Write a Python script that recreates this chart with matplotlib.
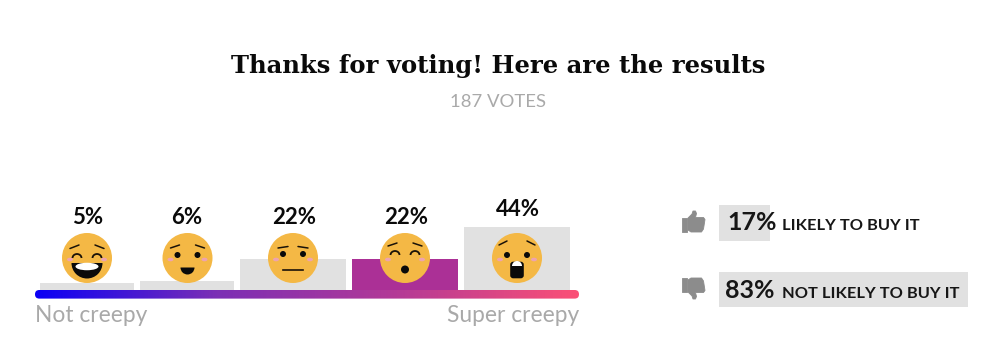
import numpy as np
import matplotlib
matplotlib.use('Agg')
import matplotlib.pyplot as plt
from matplotlib.patches import Circle, Ellipse, Arc, Wedge, FancyBboxPatch, Polygon
from matplotlib.colors import LinearSegmentedColormap

# data
title = 'Thanks for voting! Here are the results'
votes_label = '187 VOTES'
creepy_pct = [5, 6, 22, 22, 44]
creepy_labels = ['5%', '6%', '22%', '22%', '44%']
axis_left = 'Not creepy'
axis_right = 'Super creepy'
buy_pct = [17, 83]
buy_labels = ['LIKELY TO BUY IT', 'NOT LIKELY TO BUY IT']

# layout, in pixels of the 1000x352 figure
W, H = 1000, 352
bar_x = [87, 187, 293, 405, 517]
bar_w = [94, 94, 106, 106, 106]
bar_cols = ['#e1e1e1', '#e1e1e1', '#e1e1e1', '#ab3096', '#e1e1e1']
base_y = 290
px_per_pct = 1.43
label_y = [218, 218, 218, 218, 209]
label_x = [88, 187, 294, 406, 518]
face_x = [87, 187.5, 293, 405, 517]
face_y = 258
GOLD = '#f4b845'
CHEEK = '#eda4b0'
GREY = '#a9a9a9'
ICON = '#8c8c8c'
SANS = ['Lato', 'DejaVu Sans']

fig = plt.figure(figsize=(W / 100, H / 100), dpi=100, facecolor='white')

# creepiness bars
ax_bar = fig.add_axes([0, (H - base_y) / H, 1, 100 * px_per_pct / H], zorder=1)
ax_bar.bar(bar_x, creepy_pct, width=bar_w, color=bar_cols, edgecolor='none')
ax_bar.set_xlim(0, W)
ax_bar.set_ylim(0, 100)
ax_bar.axis('off')

# likely to buy bars, 3px for each percent
ax_buy = fig.add_axes([719 / W, 0, 300 / W, 1], zorder=1)
ax_buy.barh([223, 289.5], buy_pct, height=[36, 35], color='#e1e1e1')
ax_buy.set_xlim(0, 100)
ax_buy.set_ylim(H, 0)
ax_buy.axis('off')

# everything else drawn on top in pixel coordinates
ax = fig.add_axes([0, 0, 1, 1], zorder=2)
ax.patch.set_alpha(0)
ax.axis('off')

ax.text(498, 66.5, title, ha='center', va='center', family='DejaVu Serif',
        weight='bold', fontsize=17.5, color='#0a0a0a')
ax.text(498, 102, votes_label, ha='center', va='center', family=SANS,
        fontsize=13.3, color=GREY)

# gradient scale
cmap = LinearSegmentedColormap.from_list('creep', ['#0a00f5', '#7b2fb5', '#b43a96', '#fb5076'])
grad = np.linspace(0, 1, 256).reshape(1, -1)
im = ax.imshow(grad, cmap=cmap, extent=(35, 579, 298.6, 290), aspect='auto', zorder=3)
clip = FancyBboxPatch((39.3, 294.3), 535.4, 0, boxstyle='round,pad=4.3,rounding_size=4.3',
                      transform=ax.transData, fc='none', ec='none')
ax.add_patch(clip)
im.set_clip_path(clip)
ax.set_xlim(0, W)
ax.set_ylim(H, 0)

ax.text(35, 316, axis_left, ha='left', va='center', family=SANS, fontsize=16.4, color=GREY)
ax.text(579, 316, axis_right, ha='right', va='center', family=SANS, fontsize=16.4, color=GREY)

for x, y, s in zip(label_x, label_y, creepy_labels):
    ax.text(x, y, s, ha='center', va='center', family=SANS, weight='bold', fontsize=16, color='#0a0a0a')


def brows(cx, cy, dx0, dy0, dx1, dy1):
    for sign in (-1, 1):
        ax.plot([cx + sign * dx0, cx + sign * dx1], [cy + dy0, cy + dy1], color='#1a1208',
                lw=1.1, solid_capstyle='round', zorder=6)


def arc_eyes(cx, cy, dy):
    for sign in (-1, 1):
        ax.add_patch(Arc((cx + sign * 10, cy + dy), 9, 8, theta1=180, theta2=360,
                         color='#1a1208', lw=1.3, zorder=6))


def dot_eyes(cx, cy, dy):
    for sign in (-1, 1):
        ax.add_patch(Circle((cx + sign * 10, cy + dy), 3, fc='#0a0a0a', ec='none', zorder=6))


def face(cx, cy, kind):
    ax.add_patch(Circle((cx, cy), 25, fc=GOLD, ec='none', zorder=5))
    for sign in (-1, 1):
        ax.add_patch(Ellipse((cx + sign * 17, cy + 1.5), 6, 3.6, fc=CHEEK, ec='none', zorder=6))
    if kind == 0:
        brows(cx, cy, 17, -9.5, 8, -13)
        arc_eyes(cx, cy, 0)
        # y axis runs downward, so the wedge angles 0-180 open to the bottom
        ax.add_patch(Wedge((cx, cy + 5), 15.5, 0, 180, fc='#0a0a0a', ec='none', zorder=6))
        ax.add_patch(Ellipse((cx, cy + 8.5), 23, 7.5, fc='white', ec='none', zorder=7))
    elif kind == 1:
        brows(cx, cy, 17, -10, 8, -13)
        dot_eyes(cx, cy, -3)
        ax.add_patch(Wedge((cx, cy + 9.5), 7, 0, 180, fc='#0a0a0a', ec='none', zorder=6))
    elif kind == 2:
        brows(cx, cy, 15, -10, 5, -11.5)
        dot_eyes(cx, cy, -4)
        ax.plot([cx - 10, cx + 10], [cy + 11.5, cy + 11.5], color='#1a1208', lw=1.2, zorder=6)
    elif kind == 3:
        brows(cx, cy, 17, -12, 8, -15)
        arc_eyes(cx, cy, -3)
        ax.add_patch(Circle((cx, cy + 11.5), 4, fc='#0a0a0a', ec='none', zorder=6))
    else:
        brows(cx, cy, 18, -13, 10, -17)
        dot_eyes(cx, cy, -3)
        ax.add_patch(FancyBboxPatch((cx - 4.5, cy + 6), 9, 12,
                                    boxstyle='round,pad=2.3,rounding_size=3',
                                    fc='#0a0a0a', ec='none', zorder=6))
        ax.add_patch(Wedge((cx, cy + 8), 5, 180, 360, fc='white', ec='none', zorder=7))


for i, x in enumerate(face_x):
    face(x, face_y, i)


def thumb(y0, flip):
    # outline in pixels from the top left of the icon, 23 wide and 21 high
    cuff = [(0, 7), (4.5, 7), (4.5, 21), (0, 21)]
    hand = [(6, 7), (10, 3), (11, 0), (13.5, 0), (14.5, 2.5), (13.5, 6.5), (21.5, 6.5),
            (23, 8.5), (21.5, 18), (19.5, 21), (9, 21), (6, 19)]
    for shape in (cuff, hand):
        pts = [(682 + px, y0 + (21 - py if flip else py)) for px, py in shape]
        ax.add_patch(Polygon(pts, closed=True, fc=ICON, ec=ICON, lw=0.6, joinstyle='round', zorder=4))


thumb(211, False)
thumb(278, True)

buy_y = [223, 291]
buy_text_x = [727, 725]
for y, tx, p, s in zip(buy_y, buy_text_x, buy_pct, buy_labels):
    ax.text(tx, y, f'{p}%', ha='left', va='center', family=SANS, weight='bold',
            fontsize=18, color='#161616', zorder=4)
    ax.text(782, y + 3, s, ha='left', va='center', family=SANS, weight='bold',
            fontsize=11.8, color='#161616', zorder=4)

fig.savefig('out.png', dpi=100, facecolor='white')
